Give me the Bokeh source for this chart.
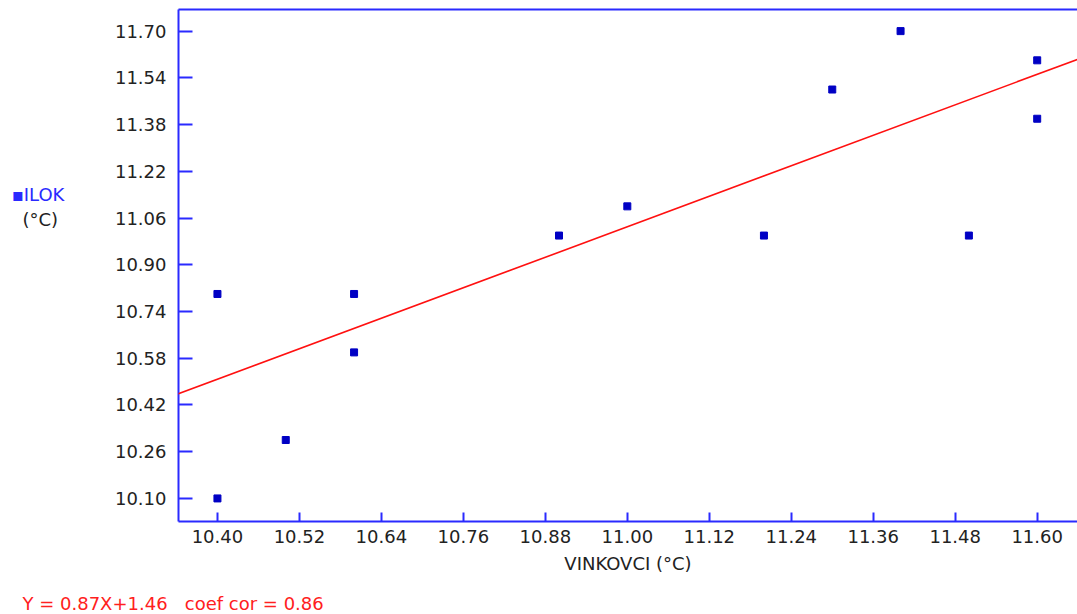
from bokeh.plotting import figure
from bokeh.layouts import row, column
from bokeh.models import Range1d, FixedTicker, PrintfTickFormatter, LinearAxis, Label, Slope
from bokeh.embed import file_html
from bokeh.resources import INLINE

# Mean annual temperatures (°C): Vinkovci vs. Ilok
vinkovci = [10.4, 10.4, 10.5, 10.6, 10.6, 10.9, 11.0, 11.2, 11.3, 11.4, 11.5, 11.6, 11.6]
ilok = [10.8, 10.1, 10.3, 10.8, 10.6, 11.0, 11.1, 11.0, 11.5, 11.7, 11.0, 11.6, 11.4]

# Regression line and correlation
slope = 0.87
intercept = 1.46
coef_cor = 0.86

x_ticks = [10.40, 10.52, 10.64, 10.76, 10.88, 11.00, 11.12, 11.24, 11.36, 11.48, 11.60]
y_ticks = [10.10, 10.26, 10.42, 10.58, 10.74, 10.90, 11.06, 11.22, 11.38, 11.54, 11.70]

AXIS_BLUE = "#2a2aff"
POINT_BLUE = "#0000c4"
TEXT = "#222222"
FONT = "DejaVu Sans"
SIZE = "18px"

W, H = 1077, 614
SIDE_W = 100          # strip holding the y caption
MAIN_H = 580          # chart row height; the summary line sits below it


def blank(width, height):
    """A plain canvas whose data units are pixels, origin at top-left."""
    f = figure(width=width, height=height,
               x_range=Range1d(0, width), y_range=Range1d(height, 0),
               output_backend="svg", toolbar_location=None,
               x_axis_location=None, y_axis_location=None,
               min_border=0, outline_line_color=None,
               background_fill_color="white", border_fill_color="white")
    f.grid.visible = False
    return f


p = figure(
    width=W - SIDE_W, height=MAIN_H,
    x_range=Range1d(10.343, 11.659), y_range=Range1d(10.021, 11.774),
    output_backend="svg", toolbar_location=None,
    min_border_left=178 - SIDE_W, min_border_right=0, min_border_top=9,
    min_border_bottom=MAIN_H - 521,
    background_fill_color="white", border_fill_color="white",
)
p.outline_line_color = None
p.grid.visible = False

# bottom axis
xa = p.xaxis[0]
xa.ticker = FixedTicker(ticks=x_ticks)
xa.formatter = PrintfTickFormatter(format="%.2f")
xa.axis_line_color = AXIS_BLUE
xa.axis_line_width = 2
xa.major_tick_line_color = AXIS_BLUE
xa.major_tick_line_width = 2
xa.major_tick_in = 9
xa.major_tick_out = 0
xa.minor_tick_line_color = None
xa.major_label_text_font = FONT
xa.major_label_text_font_size = SIZE
xa.major_label_text_color = TEXT
xa.major_label_standoff = 8
xa.axis_label = "VINKOVCI (°C)"
xa.axis_label_text_font = FONT
xa.axis_label_text_font_size = SIZE
xa.axis_label_text_font_style = "normal"
xa.axis_label_text_color = TEXT
xa.axis_label_standoff = 7

# left axis
ya = p.yaxis[0]
ya.ticker = FixedTicker(ticks=y_ticks)
ya.formatter = PrintfTickFormatter(format="%.2f")
ya.axis_line_color = AXIS_BLUE
ya.axis_line_width = 2
ya.major_tick_line_color = AXIS_BLUE
ya.major_tick_line_width = 2
ya.major_tick_in = 14
ya.major_tick_out = 0
ya.minor_tick_line_color = None
ya.major_label_text_font = FONT
ya.major_label_text_font_size = SIZE
ya.major_label_text_color = TEXT
ya.major_label_standoff = 12

# top border line
top = LinearAxis(ticker=FixedTicker(ticks=[]), axis_line_color=AXIS_BLUE, axis_line_width=2,
                 major_tick_line_color=None, minor_tick_line_color=None,
                 major_label_text_font_size="0px", major_label_standoff=0)
p.add_layout(top, "above")

# regression line
p.add_layout(Slope(gradient=slope, y_intercept=intercept, line_color="#ff1010", line_width=1.6))

# observations
p.scatter(vinkovci, ilok, marker="square", size=7, fill_color=POINT_BLUE, line_color=POINT_BLUE)

# y caption strip
side = blank(SIDE_W, MAIN_H)
side.add_layout(Label(x=11, y=210, text="▪ILOK", text_font=FONT, text_font_size=SIZE,
                      text_color=AXIS_BLUE, text_baseline="middle", text_align="left"))
side.add_layout(Label(x=22, y=238, text="(°C)", text_font=FONT, text_font_size=SIZE,
                      text_color=TEXT, text_baseline="middle", text_align="left"))

# regression summary strip
foot = blank(W, H - MAIN_H)
gap = "\u00a0\u00a0 "
foot.add_layout(Label(x=22, y=23,
                      text=f"Y = {slope:.2f}X+{intercept:.2f}{gap}coef cor = {coef_cor:.2f}",
                      text_font=FONT, text_font_size=SIZE, text_color="#ff2020",
                      text_baseline="middle", text_align="left"))

layout = column(row(side, p, spacing=0), foot, spacing=0)
open("out.html", "w").write(file_html(layout, INLINE))
